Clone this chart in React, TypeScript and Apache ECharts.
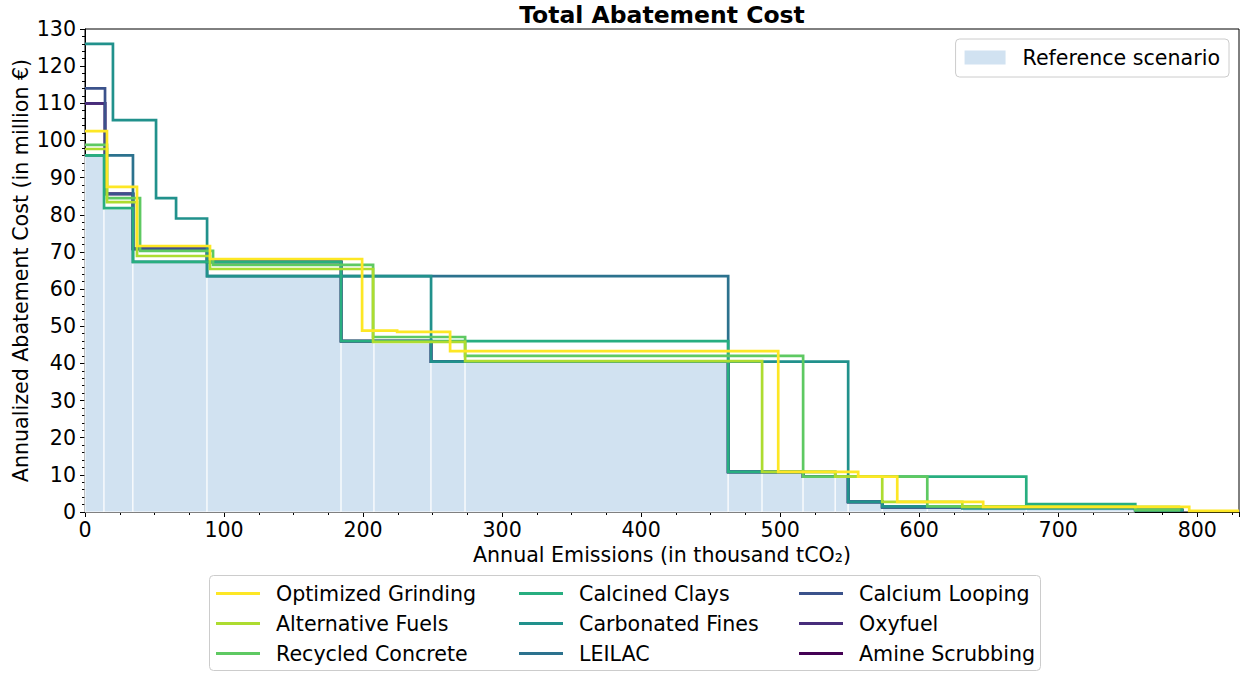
import React, { useEffect, useRef } from "react";
import * as echarts from "echarts";

const FONT = "DejaVu Sans";
const FS = 20.6;
const X_MAX = 830;
const Y_MAX = 130;

// Reference scenario bars (edges along x, heights)
const refEdges = [0, 13.7, 34.5, 87.8, 184.2, 207.9, 248.9, 273.4, 462.6, 487, 516.5, 539.6, 548.9, 573.4, 605.8, 631, 677, 755];
const refValues = [96, 81.5, 67, 63.5, 46, 45.5, 40.5, 40.5, 10.8, 10.8, 9.5, 9.5, 2.7, 1.5, 1.3, 1.1, 0.9];

// Step curves per technology
const ogEdges = [0, 15.8, 37.4, 89.9, 199.3, 224.5, 262.6, 498.6, 556.1, 584.2, 646, 794.2, 830];
const ogValues = [102.5, 87.5, 71.6, 68.1, 48.8, 48.5, 43.3, 10.8, 9.5, 2.7, 1.4, 0.3];

const afEdges = [0, 15.8, 37.4, 89.9, 207.2, 273.4, 487, 539.6, 573.4, 631, 787.8];
const afValues = [97.7, 83.4, 68.9, 65.4, 45.8, 40.6, 10.8, 9.5, 2.7, 1.4];

const rcEdges = [0, 15.8, 39.6, 92.1, 207.2, 273.4, 516.5, 605.8, 755.4, 787.8];
const rcValues = [98.8, 84.5, 70.3, 66.5, 47.1, 42, 9.5, 1.5, 0.5];

const ccEdges = [0, 13.7, 34.5, 184.2, 462.6, 539.6, 677, 755.4, 790];
const ccValues = [96, 81.8, 67.3, 46, 10.8, 9.5, 2.1, 0.5];

const cfEdges = [0, 20.1, 51.1, 65.5, 87.8, 248.9, 548.9, 573.4, 631, 790];
const cfValues = [126, 105.5, 84.5, 79, 63.5, 40.5, 2.7, 1.5, 1.0];

const leilacEdges = [0, 34.5, 87.8, 462.6, 516.5, 548.9, 573.4, 755.4, 790];
const leilacValues = [96, 67.3, 63.5, 10.8, 9.5, 2.7, 1.3, 0.5];

const calEdges = [0, 14.4, 34.5, 87.8, 184.2, 248.9, 462.6, 516.5, 548.9, 573.4, 755.4, 790];
const calValues = [114, 85.6, 70.8, 67.3, 46, 40.5, 10.8, 9.5, 2.7, 1.3, 0.5];

const oxyEdges = [0, 14.4, 34.5, 87.8, 184.2, 248.9, 462.6, 516.5, 548.9, 573.4, 755.4, 790];
const oxyValues = [110, 85.6, 70.8, 67.3, 46, 40.5, 10.8, 9.5, 2.7, 1.3, 0.5];

const amineEdges = [0, 14.4, 34.5, 87.8, 184.2, 248.9, 462.6, 516.5, 548.9, 573.4, 755.4, 790];
const amineValues = [110, 85.6, 70.8, 67.3, 46, 40.5, 10.8, 9.5, 2.7, 1.3, 0.5];

const REF_NAME = "Reference scenario";
const REF_COLOR = "#d1e2f1";

const techNames = [
  "Optimized Grinding",
  "Alternative Fuels",
  "Recycled Concrete",
  "Calcined Clays",
  "Carbonated Fines",
  "LEILAC",
  "Calcium Looping",
  "Oxyfuel",
  "Amine Scrubbing",
];
const techColors = ["#fde725", "#addc30", "#5ec962", "#28ae80", "#21918c", "#2c728e", "#3b528b", "#472d7b", "#440154"];
const techEdges = [ogEdges, afEdges, rcEdges, ccEdges, cfEdges, leilacEdges, calEdges, oxyEdges, amineEdges];
const techValues = [ogValues, afValues, rcValues, ccValues, cfValues, leilacValues, calValues, oxyValues, amineValues];

const xTitle = "Annual Emissions (in thousand tCO₂)";
const yTitle = "Annualized Abatement Cost (in million €)";
const chartTitle = "Total Abatement Cost";

function stepData(edges: number[], values: number[]) {
  const pts: number[][] = values.map((v, i) => [edges[i], v]);
  pts.push([edges[edges.length - 1], values[values.length - 1]]);
  return pts;
}

export default function App() {
  const ref = useRef<HTMLDivElement>(null);

  useEffect(() => {
    if (!ref.current) return;
    const chart = echarts.init(ref.current, undefined, { renderer: "svg" });

    const refData = refValues.map((v, i) => [refEdges[i], refEdges[i + 1], v]);

    const lineSeries: any[] = [];
    for (let k = techNames.length - 1; k >= 0; k--) {
      lineSeries.push({
        type: "line",
        name: techNames[k],
        step: "end",
        symbol: "none",
        showSymbol: false,
        data: stepData(techEdges[k], techValues[k]),
        lineStyle: { color: techColors[k], width: 2.7, join: "miter", cap: "butt" },
        itemStyle: { color: techColors[k] },
        emphasis: { disabled: true },
        silent: true,
        z: 3,
      });
    }

    const legendCommon = {
      orient: "vertical",
      icon: "rect",
      itemWidth: 44,
      itemHeight: 3,
      itemGap: 9,
      padding: 0,
      selectedMode: false,
      textStyle: {
        fontFamily: FONT,
        fontSize: FS,
        color: "#000",
        lineHeight: 20,
        padding: [0, 0, 0, 11],
      },
    };

    const option: any = {
      animation: false,
      backgroundColor: "#fff",
      textStyle: { fontFamily: FONT },
      grid: {
        left: 85,
        right: 4,
        top: 29,
        bottom: 161,
        show: true,
        borderColor: "#000",
        borderWidth: 1,
        backgroundColor: "transparent",
        containLabel: false,
        outerBoundsMode: "none",
      },
      graphic: [
        {
          type: "text",
          x: 662,
          y: 15,
          style: {
            text: chartTitle,
            font: `bold 23.5px "${FONT}"`,
            fill: "#000",
            textAlign: "center",
            textVerticalAlign: "middle",
          },
        },
        {
          type: "rect",
          shape: { x: 209.5, y: 575.5, width: 831, height: 95, r: 4 },
          style: { fill: "#fff", stroke: "#cccccc", lineWidth: 1 },
          z: 0,
        },
      ],
      legend: [
        { ...legendCommon, left: 216, top: 583, data: techNames.slice(0, 3) },
        { ...legendCommon, left: 519, top: 583, data: techNames.slice(3, 6) },
        { ...legendCommon, left: 799, top: 583, data: techNames.slice(6, 9) },
        {
          orient: "vertical",
          icon: "rect",
          right: 14,
          top: 39,
          itemWidth: 41,
          itemHeight: 14,
          padding: [8, 9, 9, 9],
          borderColor: "#cccccc",
          borderWidth: 1,
          borderRadius: 4,
          backgroundColor: "#fff",
          selectedMode: false,
          data: [REF_NAME],
          textStyle: {
            fontFamily: FONT,
            fontSize: FS,
            color: "#000",
            lineHeight: 20,
            padding: [0, 0, 0, 12],
          },
        },
      ],
      xAxis: {
        type: "value",
        min: 0,
        max: X_MAX,
        interval: 100,
        name: xTitle,
        nameLocation: "middle",
        nameGap: 32,
        nameMoveOverlap: false,
        nameTextStyle: { fontFamily: FONT, fontSize: FS, color: "#000" },
        axisLine: { show: true, onZero: false, lineStyle: { color: "#000", width: 1 } },
        axisTick: { show: true, length: 5, lineStyle: { color: "#000", width: 1 } },
        minorTick: { show: true, splitNumber: 4, length: 3, lineStyle: { color: "#000", width: 1 } },
        axisLabel: { fontFamily: FONT, fontSize: FS, color: "#000", margin: 7, showMaxLabel: false },
        splitLine: { show: false },
      },
      yAxis: {
        type: "value",
        min: 0,
        max: Y_MAX,
        interval: 10,
        name: yTitle,
        nameLocation: "middle",
        nameGap: 54,
        nameMoveOverlap: false,
        nameTextStyle: { fontFamily: FONT, fontSize: FS, color: "#000" },
        axisLine: { show: true, onZero: false, lineStyle: { color: "#000", width: 1 } },
        axisTick: { show: true, length: 5, lineStyle: { color: "#000", width: 1 } },
        minorTick: { show: true, splitNumber: 5, length: 3, lineStyle: { color: "#000", width: 1 } },
        axisLabel: { fontFamily: FONT, fontSize: FS, color: "#000", margin: 9 },
        splitLine: { show: false },
      },
      series: [
        {
          type: "custom",
          name: REF_NAME,
          renderItem: (params: any, api: any) => {
            const p0 = api.coord([api.value(0), api.value(2)]);
            const p1 = api.coord([api.value(1), 0]);
            return {
              type: "rect",
              shape: { x: p0[0], y: p0[1], width: p1[0] - p0[0], height: p1[1] - p0[1] },
              style: { fill: REF_COLOR, stroke: "#ffffff", lineWidth: 1 },
            };
          },
          encode: { x: [0, 1], y: 2 },
          data: refData,
          itemStyle: { color: REF_COLOR },
          silent: true,
          z: 1,
        },
        ...lineSeries,
      ],
    };

    chart.setOption(option);
    return () => {
      chart.dispose();
    };
  }, []);

  return (
    <div
      ref={ref}
      style={{ position: "fixed", left: 0, top: 0, width: 1243, height: 673, background: "#fff" }}
    />
  );
}
